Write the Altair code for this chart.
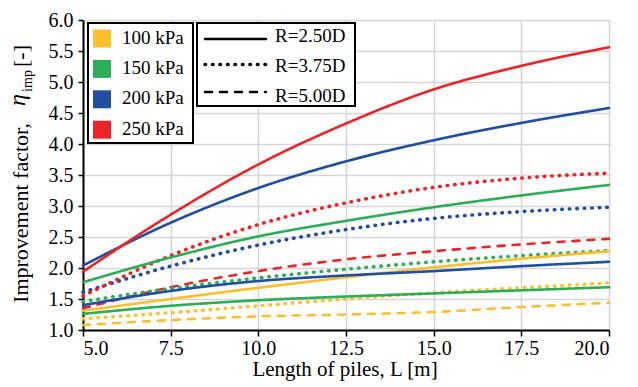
import altair as alt
import pandas as pd

# Pile length (x) and improvement factor per bearing pressure / pile spacing
lengths = [5.0, 7.5, 10.0, 12.5, 15.0, 17.5, 20.0]
pressures = ["100 kPa", "150 kPa", "200 kPa", "250 kPa"]
spacings = ["R=2.50D", "R=3.75D", "R=5.00D"]
colors = ["#FDBF2D", "#2BAE55", "#1F4FA3", "#EC2428"]

eta_100_r250 = [1.31, 1.50, 1.68, 1.85, 2.01, 2.15, 2.27]
eta_150_r250 = [1.77, 2.17, 2.51, 2.76, 2.98, 3.17, 3.34]
eta_200_r250 = [2.04, 2.73, 3.29, 3.72, 4.06, 4.34, 4.58]
eta_250_r250 = [1.94, 2.86, 3.67, 4.33, 4.88, 5.26, 5.56]

eta_100_r375 = [1.18, 1.28, 1.39, 1.50, 1.60, 1.68, 1.76]
eta_150_r375 = [1.46, 1.67, 1.84, 1.98, 2.10, 2.20, 2.28]
eta_200_r375 = [1.61, 2.03, 2.37, 2.62, 2.80, 2.91, 2.98]
eta_250_r375 = [1.55, 2.20, 2.70, 3.05, 3.30, 3.45, 3.53]

eta_100_r500 = [1.08, 1.16, 1.22, 1.25, 1.29, 1.37, 1.44]
eta_150_r500 = [1.26, 1.39, 1.48, 1.54, 1.59, 1.64, 1.69]
eta_200_r500 = [1.40, 1.63, 1.79, 1.88, 1.95, 2.03, 2.10]
eta_250_r500 = [1.35, 1.69, 1.95, 2.14, 2.27, 2.38, 2.47]

series = {
    ("100 kPa", "R=2.50D"): eta_100_r250,
    ("150 kPa", "R=2.50D"): eta_150_r250,
    ("200 kPa", "R=2.50D"): eta_200_r250,
    ("250 kPa", "R=2.50D"): eta_250_r250,
    ("100 kPa", "R=3.75D"): eta_100_r375,
    ("150 kPa", "R=3.75D"): eta_150_r375,
    ("200 kPa", "R=3.75D"): eta_200_r375,
    ("250 kPa", "R=3.75D"): eta_250_r375,
    ("100 kPa", "R=5.00D"): eta_100_r500,
    ("150 kPa", "R=5.00D"): eta_150_r500,
    ("200 kPa", "R=5.00D"): eta_200_r500,
    ("250 kPa", "R=5.00D"): eta_250_r500,
}

# line style for each spacing; two of the R=5.00D curves are plotted solid
style_of = {"R=2.50D": "solid", "R=3.75D": "dotted", "R=5.00D": "dashed"}
plotted_solid = [("150 kPa", "R=5.00D"), ("200 kPa", "R=5.00D")]

rows = []
for (p, r), vals in series.items():
    style = "solid" if (p, r) in plotted_solid else style_of[r]
    for L, v in zip(lengths, vals):
        rows.append({"L": L, "eta": v, "pressure": p, "spacing": r, "style": style})
df = pd.DataFrame(rows)

FONT = "Liberation Serif"
W, H = 526, 310
TICK_FS = 20

styles = ["solid", "dotted", "dashed"]
dashes = [[1, 0], [0.5, 7.0], [7, 8]]
widths = [2.6, 3.6, 2.6]

color_scale = alt.Scale(domain=pressures, range=colors)

x_enc = alt.X("L:Q", scale=alt.Scale(domain=[5, 20], nice=False, zero=False),
              axis=alt.Axis(values=lengths, format=".1f", title=None, tickSize=6,
                            labelFont=FONT, labelFontSize=TICK_FS, labelColor="black",
                            labelPadding=2))
y_enc = alt.Y("eta:Q", scale=alt.Scale(domain=[1, 6], nice=False, zero=False),
              axis=alt.Axis(values=[1.0 + 0.5 * i for i in range(11)], format=".1f",
                            title=None, tickSize=5, labelFont=FONT, labelFontSize=TICK_FS,
                            labelColor="black", labelPadding=5))

layers = []
# draw dashed, then dotted, then solid curves
for style, dash, sw in reversed(list(zip(styles, dashes, widths))):
    layers.append(alt.Chart(df).transform_filter(
        alt.datum.style == style
    ).mark_line(
        strokeWidth=sw, strokeCap="round", strokeDash=dash, interpolate="monotone"
    ).encode(
        x=x_enc, y=y_enc,
        color=alt.Color("pressure:N", scale=color_scale, legend=None),
        detail="spacing:N",
    ))

# legend box for bearing pressure
layers.append(alt.Chart().mark_rect(fill="white", stroke="black", strokeWidth=2).encode(
    x=alt.value(5), x2=alt.value(110), y=alt.value(3), y2=alt.value(123)))
for i, (p, c) in enumerate(zip(pressures, colors)):
    cy = 18.5 + 30.4 * i
    layers.append(alt.Chart().mark_rect(fill=c).encode(
        x=alt.value(10), x2=alt.value(28), y=alt.value(cy - 9), y2=alt.value(cy + 9)))
    layers.append(alt.Chart().mark_text(
        font=FONT, fontSize=19, align="left", baseline="middle", color="black"
    ).encode(x=alt.value(39), y=alt.value(cy - 1), text=alt.value(p)))

# legend box for pile spacing
layers.append(alt.Chart().mark_rect(fill="white", stroke="black", strokeWidth=2).encode(
    x=alt.value(114), x2=alt.value(272), y=alt.value(3), y2=alt.value(86)))
line_y = [19, 44.5, 72]
text_y = [15.5, 46, 76]
for r, dash, sw, ly, ty in zip(spacings, dashes, widths, line_y, text_y):
    layers.append(alt.Chart().mark_rule(
        color="black", strokeWidth=sw, strokeCap="round", strokeDash=dash
    ).encode(x=alt.value(122), x2=alt.value(183), y=alt.value(ly)))
    layers.append(alt.Chart().mark_text(
        font=FONT, fontSize=19, align="left", baseline="middle", color="black"
    ).encode(x=alt.value(192), y=alt.value(ty), text=alt.value(r)))

# y-axis title with Greek symbol and subscript
ytitle = [
    ("Improvement factor,", 103, -55, 22, "normal", "right"),
    ("\u03b7", 80, -58, 24, "italic", "center"),
    ("imp", 61, -51, 14, "normal", "center"),
    ("[-]", 36, -55, 22, "normal", "center"),
]
for txt, ty, tx, fs, fstyle, al in ytitle:
    layers.append(alt.Chart().mark_text(
        font=FONT, fontSize=fs, fontStyle=fstyle, angle=270, align=al,
        baseline="alphabetic", color="black"
    ).encode(x=alt.value(tx), y=alt.value(ty), text=alt.value(txt)))

# x-axis title
layers.append(alt.Chart().mark_text(
    font=FONT, fontSize=21, align="center", baseline="alphabetic", color="black"
).encode(x=alt.value(262), y=alt.value(356), text=alt.value("Length of piles, L [m]")))

chart = alt.layer(*layers).properties(
    width=W, height=H,
    padding={"left": 83, "top": 20, "right": 29, "bottom": 57},
    autosize=alt.AutoSizeParams(type="none"),
    background="white",
).configure_view(stroke=None).configure_axis(
    domainColor="black", domainWidth=2, tickColor="black", tickWidth=1.5,
    labelFont=FONT, labelFontSize=TICK_FS, labelColor="black",
    gridColor="#d6d6d6", gridWidth=1.6,
)

chart.save("out.html", embed_options={"renderer": "svg", "actions": False})
